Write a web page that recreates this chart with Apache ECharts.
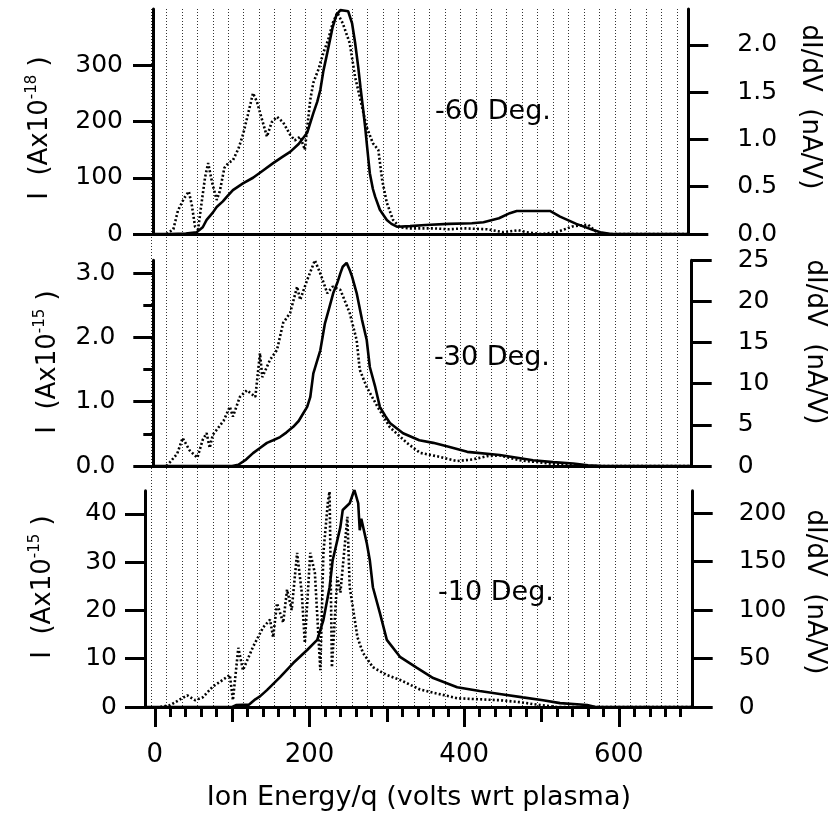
<!DOCTYPE html>
<html><head><meta charset="utf-8">
<script src="https://cdn.jsdelivr.net/npm/echarts@6/dist/echarts.min.js"></script>
<style>html,body{margin:0;padding:0;background:#fff}#c{width:836px;height:816px}</style>
</head><body><div id="c"></div>
<script>
// ---------- tick values ----------
const xTickMajor = [0, 200, 400, 600];
const xTickMedium = [100, 300, 500];
const xTickMinor = [20,40,60,80,120,140,160,180,220,240,260,280,320,340,360,380,420,440,460,480,520,540,560,580,620,640,660,680];
const gridLineVals = [-5,15,35,55,75,95,115,135,155,175,195,215,235,255,275,295,315,335,355,375,395,415,435,455,475,495,515,535,555,575,595,615,635,655,675];
const topLeftTicks = [0, 100, 200, 300];
const topRightTicks = [0, 0.5, 1, 1.5, 2];
const midLeftTicks = [0, 1, 2, 3];
const midLeftMinor = [0.5, 1.5, 2.5];
const midRightTicks = [0, 5, 10, 15, 20, 25];
const botLeftTicks = [0, 10, 20, 30, 40];
const botRightTicks = [0, 50, 100, 150, 200];
const panelLabels = ['-60 Deg.', '-30 Deg.', '-10 Deg.'];
const leftExps = ['-18', '-15', '-15'];
const xName = 'Ion Energy/q (volts wrt plasma)';

// ---------- data: [energy (V), value] ----------
// -60 deg: I (Ax10^-18) solid, dI/dV (nA/V) dotted
const topI = [[0,0],[20,0],[40,1],[54,3],[62,12],[67,25],[75,38],[80,48],[88,58],[93,66],[101,78],[114,90],[127,100],[140,113],[153,126],[165,137],[175,146],[186,160],[197,180],[205,215],[210,235],[214,256],[218,290],[223,322],[230,368],[235,390],[240,398],[246,397],[250,396],[255,375],[259,340],[263,297],[266,260],[269,226],[272,190],[274,162],[276,135],[278,108],[282,80],[285,66],[291,43],[300,25],[306,18],[313,13],[330,14],[350,16],[380,18],[410,19],[425,21],[445,28],[459,37],[468,41],[511,41],[524,31],[545,18],[567,7],[576,3],[590,0],[690,0]];
const topD = [[15,0],[24,0.05],[30,0.25],[38,0.38],[44,0.45],[48,0.3],[52,0.08],[56,0.05],[60,0.3],[65,0.6],[69,0.75],[74,0.55],[80,0.36],[84,0.45],[90,0.7],[95,0.75],[101,0.78],[108,0.9],[114,1.05],[120,1.25],[127,1.49],[132,1.4],[139,1.2],[145,1.03],[151,1.18],[158,1.24],[166,1.18],[175,1.05],[181,0.99],[188,1.03],[194,0.89],[201,1.42],[205,1.6],[212,1.75],[218,1.92],[224,2.05],[230,2.23],[236,2.34],[243,2.23],[252,2.02],[259,1.66],[265,1.45],[274,1.13],[282,0.96],[289,0.89],[294,0.57],[300,0.33],[308,0.15],[317,0.07],[330,0.06],[360,0.06],[380,0.05],[400,0.06],[430,0.05],[450,0.02],[470,0.04],[480,0.02],[500,0.0],[520,0.02],[540,0.08],[560,0.1],[570,0.03],[580,0],[690,0]];
// -30 deg: I (Ax10^-15) solid, dI/dV (nA/V) dotted
const midI = [[0,0],[100,0],[108,0.02],[118,0.1],[127,0.2],[136,0.28],[145,0.36],[153,0.4],[162,0.45],[170,0.52],[179,0.61],[186,0.7],[192,0.82],[197,0.92],[201,1.07],[205,1.44],[209,1.6],[214,1.8],[220,2.22],[226,2.48],[231,2.7],[236,2.85],[240,3.0],[243,3.1],[248,3.16],[252,3.05],[255,2.95],[261,2.69],[268,2.27],[274,1.96],[278,1.54],[285,1.23],[291,0.92],[298,0.78],[304,0.67],[321,0.51],[342,0.4],[360,0.36],[380,0.3],[404,0.22],[446,0.17],[489,0.09],[515,0.06],[541,0.04],[560,0.01],[580,0],[694,0]];
const midD = [[15,0],[20,0.5],[29,1.5],[36,3.4],[45,1.9],[55,1.0],[62,3.2],[67,4.0],[71,2.2],[75,3.8],[80,4.4],[89,5.5],[97,7.2],[101,6.0],[110,8.4],[119,9.2],[130,8.4],[136,13.7],[139,10.8],[149,12.9],[158,14.1],[166,17.4],[175,18.6],[184,21.8],[188,20.2],[197,22.6],[207,25.0],[214,23.4],[223,21.0],[230,21.8],[240,21.4],[252,18.6],[261,15.3],[265,11.7],[274,9.6],[288,7.2],[304,4.7],[326,2.8],[343,1.6],[369,1.1],[391,0.6],[411,0.8],[430,1.2],[446,1.3],[472,0.7],[515,0.25],[550,0],[694,0]];
// -10 deg: I (Ax10^-15) solid, dI/dV (nA/V) dotted
const botI = [[-12,0],[100,0],[105,0.4],[122,0.5],[130,1.6],[136,2.2],[145,3.5],[162,6.2],[179,9.1],[197,11.8],[210,13.9],[218,18],[226,24.8],[230,30.4],[240,37.3],[243,40.8],[252,42.2],[258,45],[263,42.2],[265,36.6],[267,39],[274,34],[278,30.4],[282,24.8],[291,19.5],[300,13.9],[317,10.4],[339,8.1],[360,6.0],[391,4.1],[420,3.3],[446,2.7],[476,2.0],[502,1.4],[524,0.8],[559,0.4],[570,0],[696,0]];
const botD = [[7,0],[20,2],[42,12],[52,7],[62,10],[75,21],[88,28],[97,33],[101,7],[108,61],[114,38],[127,62],[140,82],[149,90],[153,72],[158,107],[166,87],[171,121],[177,100],[184,159],[190,118],[194,66],[201,159],[207,138],[214,38],[218,159],[224,213],[226,222],[229,41],[236,134],[240,118],[249,196],[252,124],[256,103],[262,72],[269,56],[282,41],[300,33],[317,28],[343,18],[391,9],[446,7],[472,5],[498,2],[520,0],[696,0]];

// ---------- layout ----------
const X0 = 154.8, K = 0.7734;   // pixel of 0 V and pixels per volt
const boxes = [
  {l:153,   r:688.3, t:9,     b:234, yl:400,  yr:2.38, lm:30, rm:49},
  {l:153.3, r:691.7, t:260.3, b:466, yl:3.2,  yr:25,   lm:38, rm:46},
  {l:145,   r:692.7, t:490.7, b:707, yl:44.8, yr:223,  lm:28, rm:46}
];
const bg = {l:145, r:692.7, t:9, b:707};
const FONT = 'DejaVu Sans';
const blk = '#000';
const grid = boxes.concat([bg]).map(b => ({left:b.l, top:b.t, width:b.r-b.l, height:b.b-b.t}));
const xr = b => ({min:(b.l - X0)/K, max:(b.r - X0)/K});

const axisLine = {show:true, onZero:false, lineStyle:{color:blk, width:3}};
const none = {show:false};
const xAxis = [
  Object.assign({type:'value', gridIndex:0, position:'bottom', axisLine, axisTick:none, axisLabel:none, splitLine:none}, xr(boxes[0])),
  Object.assign({type:'value', gridIndex:1, position:'bottom', axisLine, axisTick:none, axisLabel:none, splitLine:none}, xr(boxes[1])),
  Object.assign({type:'value', gridIndex:2, position:'bottom', axisLine,
    axisTick:{show:true, customValues:xTickMajor, length:20, lineStyle:{color:blk, width:3}},
    axisLabel:{show:true, customValues:xTickMajor, margin:35, fontSize:26, fontFamily:FONT, color:blk},
    splitLine:none, name:xName, nameLocation:'middle', nameGap:77,
    nameTextStyle:{fontSize:27, fontFamily:FONT, color:blk}}, xr(boxes[2])),
  Object.assign({type:'value', gridIndex:2, position:'bottom', axisLine:{show:false, onZero:false},
    axisTick:{show:true, customValues:xTickMedium, length:15, lineStyle:{color:blk, width:3}},
    axisLabel:none, splitLine:none}, xr(boxes[2])),
  Object.assign({type:'value', gridIndex:2, position:'bottom', axisLine:{show:false, onZero:false},
    axisTick:{show:true, customValues:xTickMinor, length:10, lineStyle:{color:blk, width:3}},
    axisLabel:none, splitLine:none}, xr(boxes[2])),
  Object.assign({type:'value', gridIndex:3, position:'bottom', axisLine:{show:false, onZero:false},
    axisTick:{show:false, customValues:gridLineVals}, axisLabel:none,
    splitLine:{show:true, lineStyle:{color:'#333', width:1, type:[1,2]}}}, xr(bg))
];

function yAx(gi, pos, max, ticks, margin, fmt, len, showLine) {
  return {type:'value', gridIndex:gi, position:pos, min:0, max:max,
    axisLine: {show:showLine, onZero:false, lineStyle:{color:blk, width:3}},
    axisTick:{show:true, customValues:ticks, length:len, lineStyle:{color:blk, width:3}},
    axisLabel: fmt ? {show:true, customValues:ticks, margin:margin, fontSize:25, fontFamily:FONT, color:blk, formatter:fmt} : none,
    splitLine:none};
}
const f0 = v => String(v), f1 = v => v.toFixed(1);
const yAxis = [
  yAx(0,'left', boxes[0].yl, topLeftTicks, boxes[0].lm, f0, 20, true),
  yAx(0,'right',boxes[0].yr, topRightTicks, boxes[0].rm, f1, 20, true),
  yAx(1,'left', boxes[1].yl, midLeftTicks, boxes[1].lm, f1, 20, true),
  yAx(1,'left', boxes[1].yl, midLeftMinor, 0, null, 10, false),
  yAx(1,'right',boxes[1].yr, midRightTicks, boxes[1].rm, f0, 20, true),
  yAx(2,'left', boxes[2].yl, botLeftTicks, boxes[2].lm, f0, 20, true),
  yAx(2,'right',boxes[2].yr, botRightTicks, boxes[2].rm, f0, 20, true),
  {type:'value', gridIndex:3, min:0, max:1, show:false, axisLine:{onZero:false}}
];

function ser(name, data, xi, yi, dotted) {
  return {name, type:'line', data, xAxisIndex:xi, yAxisIndex:yi, symbol:'none', showSymbol:false,
    animation:false, z:5, lineStyle:{color:blk, width:2.6, type: dotted ? [2,2.2] : 'solid'}};
}
const series = [
  ser('I -60', topI, 0, 0, false), ser('dI/dV -60', topD, 0, 1, true),
  ser('I -30', midI, 1, 2, false), ser('dI/dV -30', midD, 1, 4, true),
  ser('I -10', botI, 2, 5, false), ser('dI/dV -10', botD, 2, 6, true)
];

const leftNamePos = [[40,128],[48,362],[43,587]];
const rightNamePos = [[810,107],[815,342],[815,592]];
const labelPos = [[493,112],[492,358],[496,593]];
const graphic = [];
for (let i = 0; i < 3; i++) {
  graphic.push({type:'text', x:labelPos[i][0], y:labelPos[i][1], z:10,
    style:{text:panelLabels[i], fontSize:27, fontFamily:FONT, fill:blk, align:'center', verticalAlign:'middle'}});
  graphic.push({type:'text', x:leftNamePos[i][0], y:leftNamePos[i][1], rotation:Math.PI/2, z:10,
    style:{text:'{a|I  (Ax10}{s|' + leftExps[i] + '}{a| )}', align:'center', verticalAlign:'middle', fill:blk,
      rich:{a:{fontSize:26, fontFamily:FONT, lineHeight:30, fill:blk}, s:{fontSize:15, fontFamily:FONT, lineHeight:16, verticalAlign:'top', fill:blk}}}});
  graphic.push({type:'text', x:rightNamePos[i][0], y:rightNamePos[i][1], rotation:-Math.PI/2, z:10,
    style:{text:'dI/dV  (nA/V)', fontSize:26, fontFamily:FONT, fill:blk, align:'center', verticalAlign:'middle'}});
}

const chart = echarts.init(document.getElementById('c'), null, {renderer:'canvas'});
chart.setOption({animation:false, backgroundColor:'#fff', grid, xAxis, yAxis, series, graphic});
</script></body></html>
